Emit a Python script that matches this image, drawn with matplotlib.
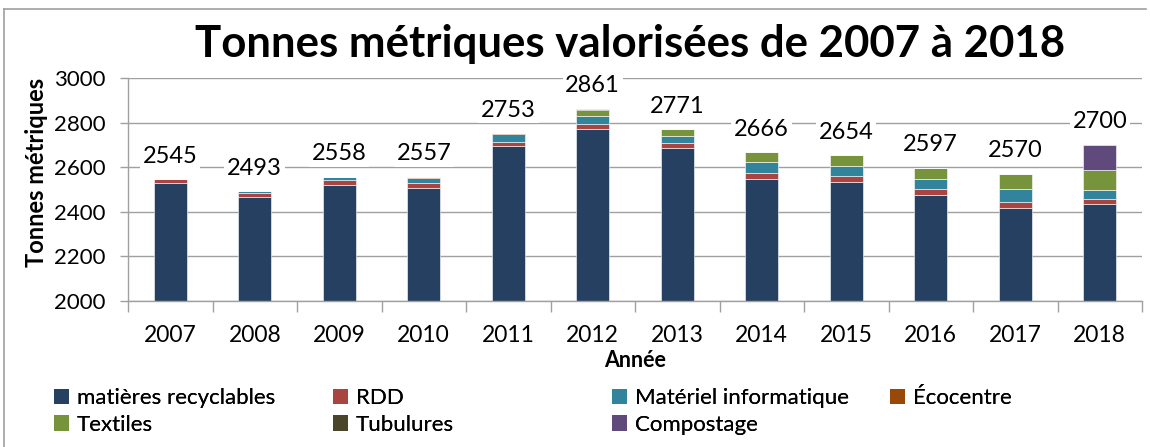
import numpy as np
import matplotlib
matplotlib.use('Agg')
import matplotlib.pyplot as plt
from matplotlib.patches import Patch
from matplotlib.lines import Line2D

plt.rcParams['font.family'] = ['Lato', 'DejaVu Sans']

# ============ DATA ============
years = ['2007', '2008', '2009', '2010', '2011', '2012',
         '2013', '2014', '2015', '2016', '2017', '2018']
totals = [2545, 2493, 2558, 2557, 2753, 2861, 2771, 2666, 2654, 2597, 2570, 2700]

recyclables = [2530, 2465, 2522, 2508, 2695, 2772, 2688, 2548, 2535, 2475, 2418, 2434]
rdd         = [15, 20, 21, 22, 20, 21, 20, 24, 27, 26, 27, 24]
informatique = [0, 8, 15, 22, 32, 38, 30, 50, 42, 48, 56, 42]
ecocentre   = [0, 0, 0, 5, 6, 0, 0, 0, 0, 0, 0, 0]
textiles    = [0, 0, 0, 0, 0, 27, 33, 44, 50, 48, 69, 86]
tubulures   = [0, 0, 0, 0, 0, 3, 0, 0, 0, 0, 0, 0]
compostage  = [0, 0, 0, 0, 0, 0, 0, 0, 0, 0, 0, 114]

series = [
    ('matières recyclables', recyclables, '#264061'),
    ('RDD', rdd, '#AA4441'),
    ('Matériel informatique', informatique, '#31849B'),
    ('Écocentre', ecocentre, '#984807'),
    ('Textiles', textiles, '#77933C'),
    ('Tubulures', tubulures, '#4A452A'),
    ('Compostage', compostage, '#604A7B'),
]

# ============ FIGURE ============
fig = plt.figure(figsize=(11.5, 4.47), dpi=100)
ax = fig.add_axes([128 / 1150, 1 - 301 / 447, 1014 / 1150, 223 / 447])

x = np.arange(len(years))
bottom = np.zeros(len(years))
for name, vals, col in series:
    vals = np.array(vals, dtype=float)
    ax.bar(x, vals, 0.39, bottom=bottom, color=col, edgecolor='white',
           linewidth=0.4, label=name, zorder=2)
    bottom += vals

for xi, tot, top in zip(x, totals, bottom):
    ax.annotate(f'{tot}', (xi, top), xytext=(0, 9), textcoords='offset points',
                ha='center', va='bottom', fontsize=17, color='black',
                bbox=dict(facecolor='white', edgecolor='none', pad=2),
                zorder=5, annotation_clip=False)

ax.set_ylim(2000, 3000)
ax.set_yticks(np.arange(2000, 3001, 200))
ax.set_xlim(-0.5, len(years) - 0.5)
ax.set_xticks(x)
ax.set_xticklabels(years)
ax.set_xticks(np.arange(-0.5, len(years)), minor=True)
ax.tick_params(axis='x', which='major', length=0, labelsize=16.5, pad=17)
ax.tick_params(axis='x', which='minor', length=8, color='#A0A0A0', width=1)
ax.tick_params(axis='y', length=6, color='#A0A0A0', width=1, labelsize=16, pad=10)
ax.grid(axis='y', color='#A0A0A0', linewidth=1, zorder=0)
ax.set_axisbelow(True)
for s in ['top', 'right']:
    ax.spines[s].set_visible(False)
for s in ['left', 'bottom']:
    ax.spines[s].set_color('#A0A0A0')
    ax.spines[s].set_linewidth(1)

ax.set_xlabel('Année', fontsize=15.5, fontweight='bold')
ax.xaxis.set_label_coords(0.5, -49 / 223)
ax.set_ylabel('Tonnes métriques', fontsize=17, fontweight='bold')
ax.yaxis.set_label_coords(-80 / 1014, (301 - 172) / 223)

fig.text(0.548, 1 - 44 / 447, 'Tonnes métriques valorisées de 2007 à 2018',
         ha='center', va='center', fontsize=31.5, fontweight='bold')

# legend laid out in four fixed columns, like the original
handles = [Patch(facecolor=c, edgecolor='none') for _, _, c in series]
names = [n for n, _, _ in series]
col_x = [54, 333, 612, 890]
col_items = [[0, 4], [1, 5], [2, 6], [3]]
for cx, items in zip(col_x, col_items):
    leg = fig.legend([handles[i] for i in items], [names[i] for i in items],
                     loc='upper left', bbox_to_anchor=(cx / 1150, 1 - 388 / 447),
                     frameon=False, fontsize=16, handlelength=0.68,
                     handleheight=0.68, handletextpad=0.35, labelspacing=0.3,
                     borderpad=0, borderaxespad=0)
    fig.add_artist(leg)

# outer border
fig.add_artist(Line2D([4 / 1150, 4 / 1150], [0, 1 - 9 / 447], color='#A0A0A0', lw=1.2,
                      transform=fig.transFigure))
fig.add_artist(Line2D([4 / 1150, 1146 / 1150], [1 - 9 / 447, 1 - 9 / 447],
                      color='#A0A0A0', lw=1.2, transform=fig.transFigure))

fig.savefig('out.png', dpi=100)
